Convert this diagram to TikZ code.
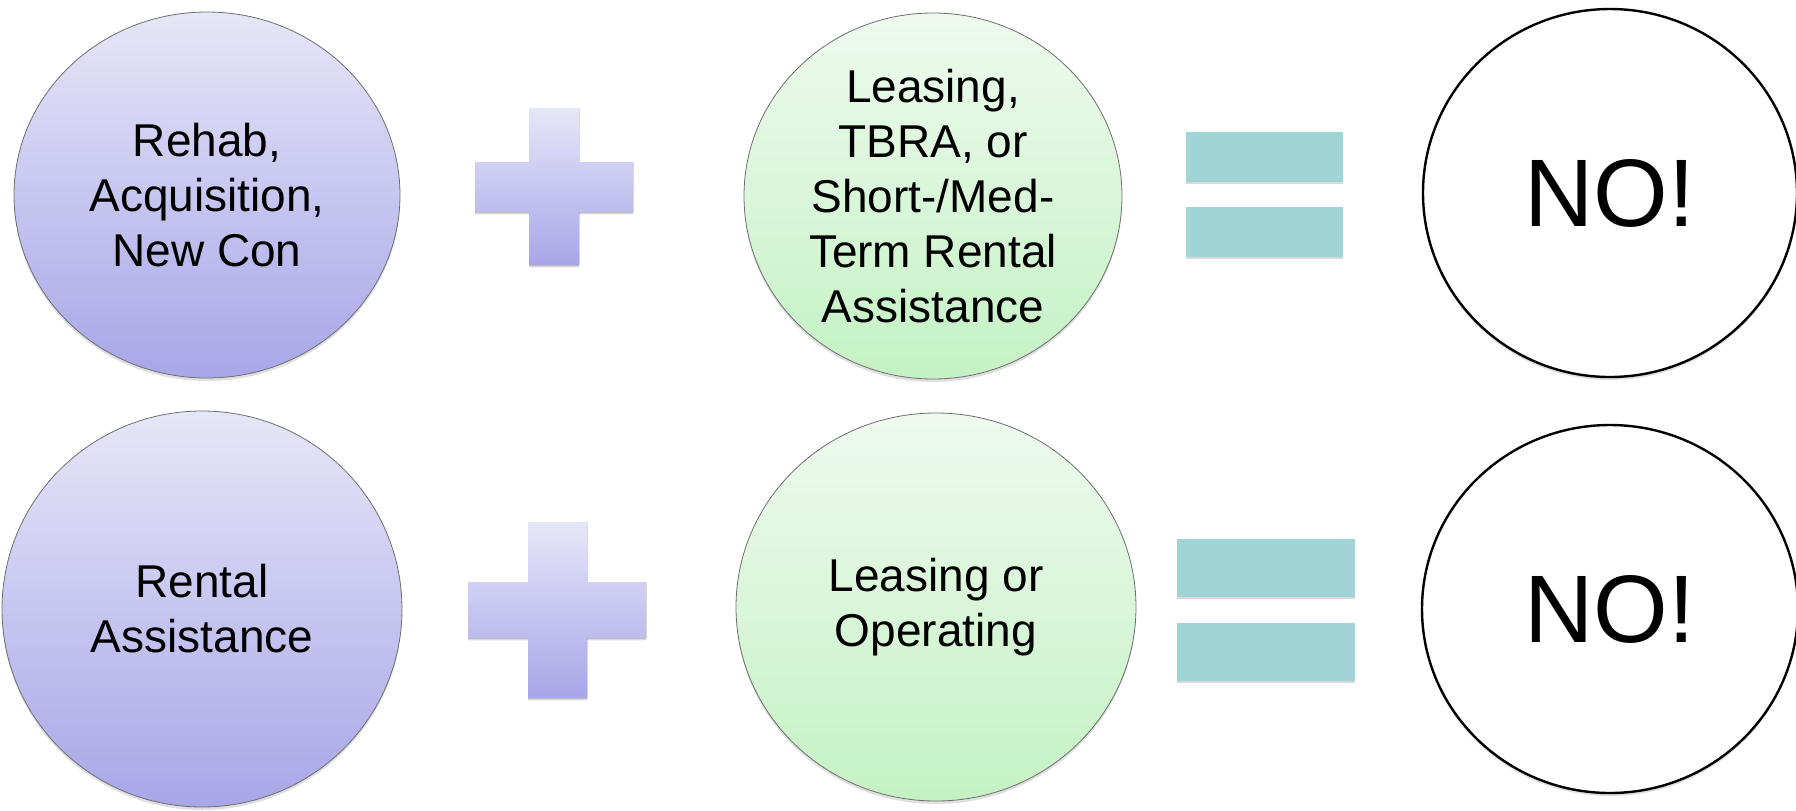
\documentclass[tikz,border=0pt]{standalone}
\usepackage{fontspec}
\setmainfont{Liberation Sans}
\usetikzlibrary{shapes.geometric,shadows}

\definecolor{lavtop}{RGB}{230,230,248}
\definecolor{lavbot}{RGB}{168,166,232}
\definecolor{mintop}{RGB}{238,250,238}
\definecolor{minbot}{RGB}{196,242,196}
\definecolor{teal}{RGB}{160,212,214}
\definecolor{rimgray}{RGB}{110,110,110}

\tikzset{
  blob/.style={ellipse, inner sep=0pt, align=center,
    font=\fontsize{23}{27.5}\selectfont,
    drop shadow={shadow xshift=0pt, shadow yshift=-1.5pt, opacity=0.25}},
  lavblob/.style={blob, draw=rimgray, line width=0.4pt, top color=lavtop, bottom color=lavbot},
  mintblob/.style={blob, draw=rimgray, line width=0.4pt, top color=mintop, bottom color=minbot},
  noblob/.style={blob, draw=black, line width=1.2pt, fill=white,
    font=\fontsize{48}{56}\selectfont},
  plusmark/.style={top color=lavtop, bottom color=lavbot,
    drop shadow={shadow xshift=0pt, shadow yshift=-1.2pt, opacity=0.3}},
  barmark/.style={fill=teal,
    drop shadow={shadow xshift=0pt, shadow yshift=-1.2pt, opacity=0.3}}
}

\begin{document}
\begin{tikzpicture}[x=0.5pt, y=-0.5pt]
\useasboundingbox (0,0) rectangle (1796,810);

% first row
\node[lavblob, minimum width=193pt, minimum height=183pt] (rehab) at (207,195)
  {Rehab,\\Acquisition,\\New Con};
\node[mintblob, minimum width=189pt, minimum height=183pt] (leasing) at (933,196)
  {Leasing,\\TBRA, or\\Short-/Med-\\Term Rental\\Assistance};
\node[noblob, minimum width=187pt, minimum height=184pt] (noA) at (1610,193) {NO!};

\fill[plusmark] (529,108) -- (579,108) -- (579,162) -- (633,162) -- (633,212)
  -- (579,212) -- (579,265) -- (529,265) -- (529,212) -- (475,212)
  -- (475,162) -- (529,162) -- cycle;
\fill[barmark] (1186,132) rectangle (1343,182);
\fill[barmark] (1186,207) rectangle (1343,257);

% second row
\node[lavblob, minimum width=200pt, minimum height=198pt] (rental) at (202,609)
  {Rental\\Assistance};
\node[mintblob, minimum width=200pt, minimum height=194pt] (operating) at (936,607)
  {Leasing or\\Operating};
\node[noblob, minimum width=188pt, minimum height=184pt] (noB) at (1610,609) {NO!};

\fill[plusmark] (528,522) -- (587,522) -- (587,582) -- (646,582) -- (646,638)
  -- (587,638) -- (587,698) -- (528,698) -- (528,638) -- (468,638)
  -- (468,582) -- (528,582) -- cycle;
\fill[barmark] (1177,539) rectangle (1355,597);
\fill[barmark] (1177,623) rectangle (1355,681);
\end{tikzpicture}
\end{document}
